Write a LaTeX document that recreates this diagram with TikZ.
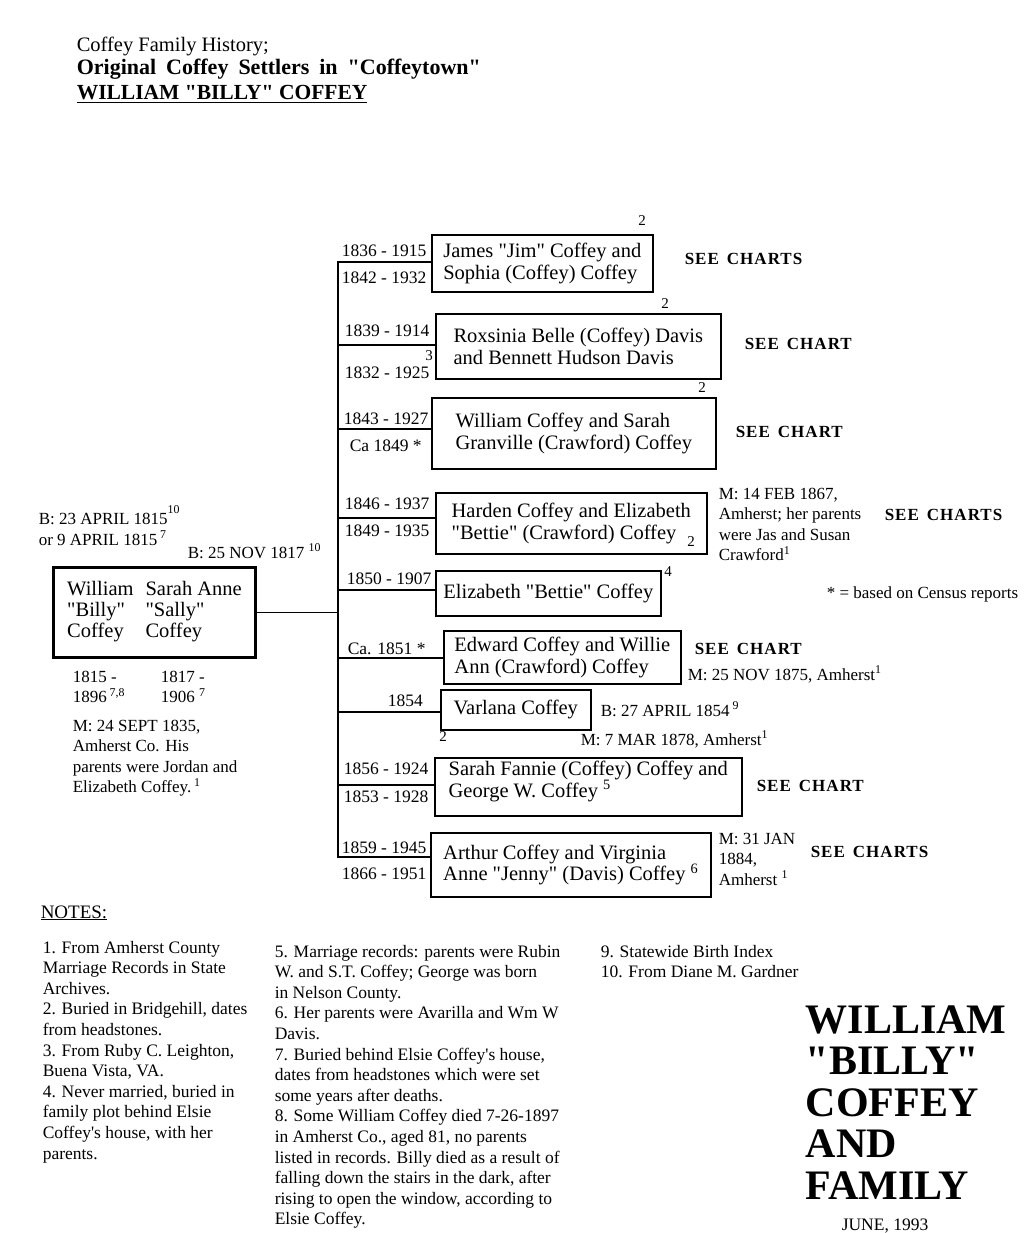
\documentclass[tikz,border=0pt]{standalone}
\usepackage{fontspec}
\setmainfont{Liberation Serif}[Ligatures=TeXOff]
\usetikzlibrary{positioning}

\newcommand{\lblock}[1]{\begin{tabular}[t]{@{}l@{}}#1\end{tabular}}

\begin{document}
\begin{tikzpicture}
	[
		x=1pt, y=-1pt,
		line width=1.5pt,
		B/.style = {rectangle, draw, line width=1.6pt, anchor=north west, align=left, inner sep=0pt, font=\fontsize{20.5}{21.5}\selectfont},
		P/.style = {rectangle, draw, line width=3pt, anchor=north west, inner sep=0pt, font=\fontsize{20.5}{21}\selectfont},
		H/.style = {anchor=base west, inner sep=0pt, font=\fontsize{20.5}{24}\selectfont},
		D/.style = {anchor=base west, inner sep=0pt, font=\fontsize{17.5}{20}\selectfont},
		T/.style = {anchor=base west, inner sep=0pt, font=\fontsize{17}{20.6}\selectfont},
		S/.style = {anchor=base west, inner sep=0pt, font=\fontsize{17}{20}\selectfont\bfseries\addfontfeature{LetterSpace=6}},
		F/.style = {inner sep=0pt, font=\fontsize{15}{16}\selectfont},
		N/.style = {anchor=base west, inner sep=0pt, font=\fontsize{17.5}{20.6}\selectfont},
	]

	\useasboundingbox (0,0) rectangle (1033,1233);

	% heading
	\node[H] (h1) at (76,52) {Coffey Family History;};
	\node[H, font=\fontsize{22}{24}\selectfont\bfseries] (h2) at (76,75) {Original\hspace{4.5pt} Coffey\hspace{4.5pt} Settlers\hspace{4.5pt} in\hspace{4.5pt} "Coffeytown"};
	\node[H, font=\fontsize{21.5}{24}\selectfont\bfseries] (h3) at (76,100) {\underline{WILLIAM "BILLY" COFFEY}};

	% parents
	\node[P, minimum width=202pt, minimum height=90pt] (pp) at (52,566)
		{\begin{tabular}{@{}l@{\hspace{12pt}}l@{}}William & Sarah Anne\\"Billy" & "Sally"\\Coffey & Coffey\end{tabular}};
	\node[T] (pb1) at (38,524) {B: 23 APRIL 1815\raisebox{4pt}{\textsuperscript{10}}};
	\node[T] (pb2) at (38,545) {or 9 APRIL 1815\,\textsuperscript{7}};
	\node[T] (pb3) at (187,558) {B: 25 NOV 1817 \textsuperscript{10}};
	\node[T] (pd1) at (72,682) {\lblock{1815 -\\1896\,\textsuperscript{7,8}}};
	\node[T] (pd2) at (160,682) {\lblock{1817 -\\1906 \textsuperscript{7}}};
	\node[T] (pm) at (72,731) {\lblock{M: 24 SEPT 1835,\\Amherst Co. His\\parents were Jordan and\\Elizabeth Coffey.\,\textsuperscript{1}}};

	% children
	\node[B, minimum width=221pt, minimum height=57pt] (k1) at (431,234) {James "Jim" Coffey and\\Sophia (Coffey) Coffey};
	\node[B, minimum width=285pt, minimum height=65pt] (k2) at (435,313) {Roxsinia Belle (Coffey) Davis\\and Bennett Hudson Davis};
	\node[B, minimum width=284pt, minimum height=71pt] (k3) at (431,397) {William Coffey and Sarah\\Granville (Crawford) Coffey};
	\node[B, minimum width=271pt, minimum height=61pt] (k4) at (435,492) {Harden Coffey and Elizabeth\\"Bettie" (Crawford) Coffey\hspace{14pt}};
	\node[B, minimum width=225pt, minimum height=45pt] (k5) at (435,570) {Elizabeth "Bettie" Coffey};
	\node[B, minimum width=237pt, minimum height=53pt] (k6) at (443,630) {Edward Coffey and Willie\\Ann (Crawford) Coffey};
	\node[B, minimum width=150pt, minimum height=40pt] (k7) at (440,689) {Varlana Coffey};
	\node[B, minimum width=307pt, minimum height=58pt] (k8) at (434,757) {Sarah Fannie (Coffey) Coffey and\\George W. Coffey \textsuperscript{5}\\[-6pt]};
	\node[B, minimum width=280pt, minimum height=64pt] (k9) at (430,832) {Arthur Coffey and Virginia\\Anne "Jenny" (Davis) Coffey \textsuperscript{6}};

	% life dates
	\node[D] (d1a) at (341,256) {1836 - 1915};
	\node[D] (d1b) at (341,283) {1842 - 1932};
	\node[D] (d2a) at (344,336) {1839 - 1914};
	\node[D] (d2b) at (344,378) {1832 - 1925};
	\node[D] (d3a) at (343,424) {1843 - 1927};
	\node[D] (d3b) at (349,451) {Ca 1849 *};
	\node[D] (d4a) at (344,509) {1846 - 1937};
	\node[D] (d4b) at (344,536) {1849 - 1935};
	\node[D] (d5a) at (346,584) {1850 - 1907};
	\node[D] (d6a) at (347,654) {Ca. 1851 *};
	\node[D] (d7a) at (387,706) {1854};
	\node[D] (d8a) at (343,774) {1856 - 1924};
	\node[D] (d8b) at (343,802) {1853 - 1928};
	\node[D] (d9a) at (341,853) {1859 - 1945};
	\node[D] (d9b) at (341,879) {1866 - 1951};

	% note numbers
	\node[F] (f1) at (642,221) {2};
	\node[F] (f2) at (665,304) {2};
	\node[F] (f3) at (429,356) {3};
	\node[F] (f4) at (702,388) {2};
	\node[F] (f5) at (691,542) {2};
	\node[F] (f6) at (668,572) {4};
	\node[F] (f7) at (443,737) {2};

	% remarks
	\node[S] (s1) at (684,265) {SEE\hspace{8pt}CHARTS};
	\node[S] (s2) at (744,349) {SEE\hspace{8pt}CHART};
	\node[S] (s3) at (735,437) {SEE\hspace{8pt}CHART};
	\node[S] (s4) at (884,520) {SEE\hspace{8pt}CHARTS};
	\node[S] (s6) at (694,654) {SEE\hspace{8pt}CHART};
	\node[S] (s8) at (756,791) {SEE\hspace{8pt}CHART};
	\node[S] (s9) at (810,857) {SEE\hspace{8pt}CHARTS};
	\node[T] (r4) at (718,499) {\lblock{M: 14 FEB 1867,\\Amherst; her parents\\were Jas and Susan\\Crawford\textsuperscript{1}}};
	\node[T] (r5) at (826,598) {* = based on Census reports};
	\node[T] (r6) at (687,680) {M: 25 NOV 1875, Amherst\textsuperscript{1}};
	\node[T] (r7a) at (600,716) {B: 27 APRIL 1854\,\textsuperscript{9}};
	\node[T] (r7b) at (580,745) {M: 7 MAR 1878, Amherst\textsuperscript{1}};
	\node[T] (r9) at (718,844) {\lblock{M: 31 JAN\\1884,\\Amherst \textsuperscript{1}}};

	% family lines
	\coordinate (c1) at (338,262);
	\coordinate (c2) at (338,345);
	\coordinate (c3) at (338,429);
	\coordinate (c4) at (338,518);
	\coordinate (c5) at (338,590);
	\coordinate (c6) at (338,658);
	\coordinate (c7) at (338,712);
	\coordinate (c8) at (338,785);
	\coordinate (c9) at (338,857);

	\draw (c1 -| k1.west) -- (c1) -- (c9) -- (c9 -| k9.west);
	\foreach \i in {2,...,8}
	\draw (c\i) -- (c\i -| k\i.west);
	\draw (pp.east) -- (pp.east -| c1);

	% notes
	\node[N, font=\fontsize{19}{20.6}\selectfont] (n0) at (40,918) {\underline{NOTES:}};
	\node[N] (n1) at (42,953) {\lblock{1. From Amherst County\\Marriage Records in State\\Archives.\\2. Buried in Bridgehill, dates\\from headstones.\\3. From Ruby C. Leighton,\\Buena Vista, VA.\\4. Never married, buried in\\family plot behind Elsie\\Coffey's house, with her\\parents.}};
	\node[N] (n2) at (274,957) {\lblock{5. Marriage records: parents were Rubin\\W. and S.T. Coffey; George was born\\in Nelson County.\\6. Her parents were Avarilla and Wm W\\Davis.\\7. Buried behind Elsie Coffey's house,\\dates from headstones which were set\\some years after deaths.\\8. Some William Coffey died 7-26-1897\\in Amherst Co., aged 81, no parents\\listed in records. Billy died as a result of\\falling down the stairs in the dark, after\\rising to open the window, according to\\Elsie Coffey.}};
	\node[N] (n3) at (600,957) {\lblock{9. Statewide Birth Index\\10. From Diane M. Gardner}};

	% title
	\node[anchor=base west, inner sep=0pt, font=\fontsize{42}{41.5}\selectfont\bfseries] (ttl) at (805,1033) {\lblock{WILLIAM\\"BILLY"\\COFFEY\\AND\\FAMILY}};
	\node[anchor=base, inner sep=0pt, font=\fontsize{17.5}{18}\selectfont] (dt) at (885,1230) {JUNE, 1993};

\end{tikzpicture}
\end{document}
